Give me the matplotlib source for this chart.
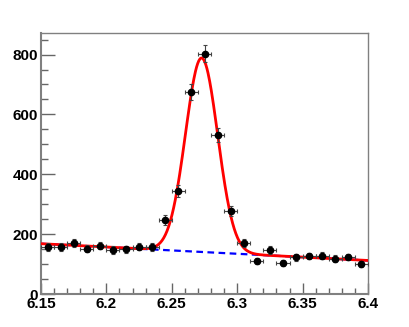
import numpy as np
import matplotlib
matplotlib.use("Agg")
import matplotlib.pyplot as plt
from matplotlib.ticker import MultipleLocator, FixedLocator

# Data (bin centres and counts)
bin_centers = [6.155, 6.165, 6.175, 6.185, 6.195, 6.205, 6.215, 6.225, 6.235, 6.245,
               6.255, 6.265, 6.275, 6.285, 6.295, 6.305, 6.315, 6.325, 6.335, 6.345,
               6.355, 6.365, 6.375, 6.385, 6.395]
counts = [157, 157, 170, 152, 162, 147, 149, 158, 157, 247,
          344, 675, 803, 530, 278, 171, 109, 147, 104, 122,
          127, 128, 118, 124, 99]
bin_half_width = 0.005

# Fit parameters: gaussian + linear background
bkg_at_lo = 168.0   # value at 6.15
bkg_at_hi = 112.0   # value at 6.40
g_amp = 648.0
g_mean = 6.2728
g_sigma = 0.0123

x_tick_labels = ["6.15", "6.2", "6.25", "6.3", "6.35", "6.4"]
x_ticks = [6.15, 6.20, 6.25, 6.30, 6.35, 6.40]
y_ticks = [0, 200, 400, 600, 800]

x = np.array(bin_centers)
y = np.array(counts, dtype=float)
yerr = np.sqrt(y)

def bkg(t):
    return bkg_at_lo + (bkg_at_hi - bkg_at_lo) * (t - 6.15) / 0.25

def total(t):
    return bkg(t) + g_amp * np.exp(-0.5 * ((t - g_mean) / g_sigma) ** 2)

fig = plt.figure(figsize=(4.09, 3.27), dpi=100)
ax = fig.add_axes([41/409, 1 - 294/327, (368-41)/409, (294-33)/327])

tt = np.linspace(6.15, 6.4, 600)
ax.plot(tt, bkg(tt), color="#0000ff", ls=(0, (3, 2)), lw=1.6, zorder=2)
ax.plot(tt, total(tt), color="#ff0000", lw=2.0, zorder=3)
ax.errorbar(x, y, yerr=yerr, xerr=bin_half_width, fmt="o", color="black",
            ms=4.5, ecolor="#444444", elinewidth=0.8, capsize=1.5, capthick=0.8, zorder=4)

ax.set_xlim(6.15, 6.4)
ax.set_ylim(0, 872)
ax.xaxis.set_major_locator(FixedLocator(x_ticks))
ax.set_xticklabels(x_tick_labels)
ax.xaxis.set_minor_locator(MultipleLocator(0.01))
ax.yaxis.set_major_locator(FixedLocator(y_ticks))
ax.yaxis.set_minor_locator(MultipleLocator(50))

for s in ax.spines.values():
    s.set_color("#808080")
    s.set_linewidth(1.0)
ax.spines["left"].set_linewidth(1.5)
ax.spines["bottom"].set_linewidth(1.5)

ax.tick_params(axis="both", which="both", direction="in", color="#666666",
               top=False, right=False)
ax.tick_params(axis="x", which="major", length=8, width=1, pad=2)
ax.tick_params(axis="x", which="minor", length=4, width=1)
ax.tick_params(axis="y", which="major", length=10, width=1, pad=2)
ax.tick_params(axis="y", which="minor", length=5, width=1)
for lab in ax.get_xticklabels() + ax.get_yticklabels():
    lab.set_fontfamily("Liberation Sans")
    lab.set_fontweight("bold")
    lab.set_fontsize(11)

fig.savefig("out.png", dpi=100)
